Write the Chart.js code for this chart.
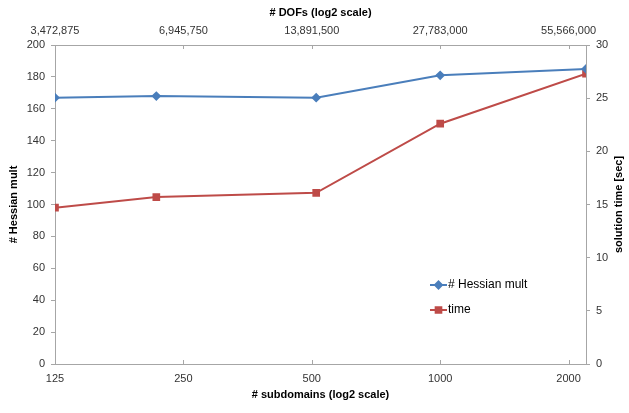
<!DOCTYPE html>
<html>
<head>
<meta charset="utf-8">
<script src="https://cdn.jsdelivr.net/npm/chart.js@4/dist/chart.umd.min.js"></script>
<style>
  html, body { margin: 0; padding: 0; background: #fff; }
  #chart { display: block; }
</style>
</head>
<body>
<canvas id="chart" width="629" height="413"></canvas>
<script>
// subdomain counts (5^3, 6^3, 8^3, 10^3, 13^3)
const subdomains = [125, 216, 512, 1000, 2197];
const hessianMult = [167, 168, 167, 181, 185];
const solutionTime = [14.7, 15.7, 16.1, 22.6, 27.3];

// tick labels
const subdomainTicks = [125, 250, 500, 1000, 2000];
const dofTickLabels = ['3,472,875', '6,945,750', '13,891,500', '27,783,000', '55,566,000'];

const axisColor = '#A6A6A6';
const textColor = '#333333';
const fontFamily = '"Liberation Sans", Arial, sans-serif';

const xMin = Math.log2(subdomains[0]);
const xMax = Math.log2(subdomains[subdomains.length - 1]);

function log2Ticks(scale) {
    scale.ticks = subdomainTicks.map(v => ({ value: Math.log2(v) }));
}

// simple legend drawn inside the plot area
const insideLegend = {
    id: 'insideLegend',
    afterDatasetsDraw(chart) {
        const ctx = chart.ctx;
        const x0 = 430, ys = [285, 310];
        chart.data.datasets.forEach((ds, i) => {
            const y = ys[i];
            ctx.save();
            ctx.strokeStyle = ds.borderColor;
            ctx.lineWidth = 2;
            ctx.beginPath();
            ctx.moveTo(x0, y);
            ctx.lineTo(x0 + 17, y);
            ctx.stroke();
            Chart.helpers.drawPoint(ctx, {
                pointStyle: ds.pointStyle,
                radius: ds.pointRadius,
                borderWidth: 1
            }, x0 + 8.5, y);
            ctx.fillStyle = ds.pointBackgroundColor;
            ctx.fill();
            ctx.fillStyle = '#000';
            ctx.font = '12px ' + fontFamily;
            ctx.textBaseline = 'middle';
            ctx.fillText(ds.label, x0 + 18, y);
            ctx.restore();
        });
    }
};

// x axes in Excel put their tick marks inside the plot,
// and the right axis title reads bottom-to-top
const axisExtras = {
    id: 'axisExtras',
    afterDraw(chart) {
        const ctx = chart.ctx;
        const area = chart.chartArea;
        ctx.save();
        ctx.strokeStyle = axisColor;
        ctx.lineWidth = 1;
        ['x', 'x2'].forEach(id => {
            const sc = chart.scales[id];
            const dir = id === 'x' ? -1 : 1;
            const yEdge = id === 'x' ? area.bottom : area.top;
            sc.ticks.forEach(t => {
                const px = Math.round(sc.getPixelForValue(t.value)) + 0.5;
                ctx.beginPath();
                ctx.moveTo(px, yEdge);
                ctx.lineTo(px, yEdge + dir * 4);
                ctx.stroke();
            });
        });
        ctx.translate(619, (area.top + area.bottom) / 2);
        ctx.rotate(-Math.PI / 2);
        ctx.fillStyle = '#000';
        ctx.font = 'bold 11px ' + fontFamily;
        ctx.textAlign = 'center';
        ctx.textBaseline = 'middle';
        ctx.fillText('solution time [sec]', 0, 0);
        ctx.restore();
    }
};

const ctx = document.getElementById('chart').getContext('2d');

const myChart = new Chart(ctx, {
    type: 'line',
    data: {
        datasets: [{
            label: '# Hessian mult',
            data: subdomains.map((s, i) => ({ x: Math.log2(s), y: hessianMult[i] })),
            borderColor: '#4A7EBB',
            backgroundColor: '#4A7EBB',
            pointBackgroundColor: '#4A7EBB',
            pointBorderColor: '#4A7EBB',
            borderWidth: 2,
            pointStyle: 'rectRot',
            pointRadius: 3.5,
            xAxisID: 'x',
            yAxisID: 'y'
        }, {
            label: 'time',
            data: subdomains.map((s, i) => ({ x: Math.log2(s), y: solutionTime[i] })),
            borderColor: '#BE4B48',
            backgroundColor: '#BE4B48',
            pointBackgroundColor: '#BE4B48',
            pointBorderColor: '#BE4B48',
            borderWidth: 2,
            pointStyle: 'rect',
            pointRadius: 4,
            xAxisID: 'x',
            yAxisID: 'y2'
        }]
    },
    options: {
        responsive: false,
        animation: false,
        devicePixelRatio: 1,
        layout: { padding: 0 },
        plugins: {
            legend: { display: false },
            tooltip: { enabled: false }
        },
        scales: {
            x: {
                type: 'linear',
                position: 'bottom',
                min: xMin,
                max: xMax,
                afterBuildTicks: log2Ticks,
                afterFit: (s) => { s.height = 49; },
                grid: { drawOnChartArea: false, drawTicks: false },
                border: { color: axisColor, width: 1 },
                ticks: {
                    autoSkip: false,
                    maxRotation: 0,
                    padding: 8,
                    color: textColor,
                    font: { size: 11, family: fontFamily },
                    callback: (v, i) => subdomainTicks[i]
                },
                title: {
                    display: true,
                    text: '# subdomains (log2 scale)',
                    color: '#000',
                    font: { size: 11, weight: 'bold', family: fontFamily },
                    padding: { top: 0, bottom: 11 }
                }
            },
            x2: {
                type: 'linear',
                position: 'top',
                min: xMin,
                max: xMax,
                afterBuildTicks: log2Ticks,
                afterFit: (s) => { s.height = 45; },
                grid: { drawOnChartArea: false, drawTicks: false },
                border: { color: axisColor, width: 1 },
                ticks: {
                    autoSkip: false,
                    maxRotation: 0,
                    padding: 7,
                    color: textColor,
                    font: { size: 11, family: fontFamily },
                    callback: (v, i) => dofTickLabels[i]
                },
                title: {
                    display: true,
                    text: '# DOFs (log2 scale)',
                    color: '#000',
                    font: { size: 11, weight: 'bold', family: fontFamily },
                    padding: { top: 6, bottom: 0 }
                }
            },
            y: {
                position: 'left',
                min: 0,
                max: 200,
                afterFit: (s) => { s.width = 55; },
                grid: { drawOnChartArea: false, color: axisColor, tickLength: 4 },
                border: { color: axisColor, width: 1 },
                ticks: {
                    stepSize: 20,
                    padding: 6,
                    color: textColor,
                    font: { size: 11, family: fontFamily }
                },
                title: {
                    display: true,
                    text: '# Hessian mult',
                    color: '#000',
                    font: { size: 11, weight: 'bold', family: fontFamily },
                    padding: { top: 7, bottom: 0 }
                }
            },
            y2: {
                position: 'right',
                min: 0,
                max: 30,
                afterFit: (s) => { s.width = 43; },
                grid: { drawOnChartArea: false, color: axisColor, tickLength: 4 },
                border: { color: axisColor, width: 1 },
                ticks: {
                    stepSize: 5,
                    padding: 6,
                    color: textColor,
                    font: { size: 11, family: fontFamily }
                },
                title: { display: false }
            }
        }
    },
    plugins: [insideLegend, axisExtras]
});
</script>
</body>
</html>
